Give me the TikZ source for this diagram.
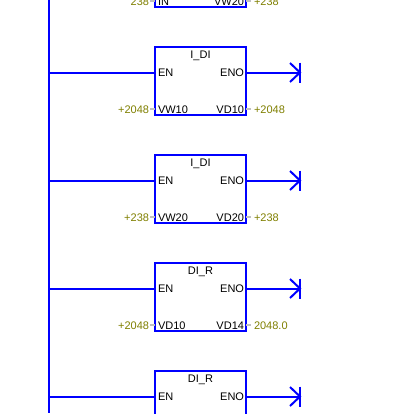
\documentclass[tikz,border=0pt]{standalone}
\usepackage{fontspec}
\setmainfont{Liberation Sans}
\definecolor{ladder}{HTML}{0000FF}
\definecolor{valueol}{HTML}{808000}
\definecolor{stubgr}{HTML}{C0C0C0}
\tikzset{
  wire/.style={draw=ladder,line width=2pt},
  fbox/.style={draw=ladder,line width=2pt,fill=white,minimum width=91pt,minimum height=68pt,inner sep=0pt,outer sep=0pt,anchor=north west},
  stub/.style={draw=stubgr,line width=2pt},
  pin/.style={font=\fontsize{11}{12}\selectfont,text=black,inner sep=0pt,outer sep=0pt},
  val/.style={font=\fontsize{11}{12}\selectfont,text=valueol,inner sep=0pt,outer sep=0pt},
}
\usetikzlibrary{calc}
\newcommand{\lbox}[2]{%
  \node[fbox] (#1) at (155,#2) {};
}
\newcommand{\ltitle}[3]{%
  \node[pin] (#1t) at (200.5,#2+8.5) {#3};
}
\newcommand{\lrung}[2]{%
  \node[pin,anchor=base west] (#1en) at ($(#1.north west)+(3,29.5)$) {EN};
  \node[pin,anchor=base east] (#1eno) at ($(#1.north east)+(-2,29.5)$) {ENO};
  \coordinate (#1rail) at (49,#2+25.5);
  \coordinate (#1coil) at (300,#2+25.5);
  \draw[wire] (#1rail) -- (#1rail-|#1.west);
  \draw[wire] (#1rail-|#1.east) -- (#1coil);
  \draw[wire] ($(#1coil)+(0,-10)$) -- ($(#1coil)+(0,10)$);
  \draw[wire] ($(#1coil)+(-10,-9.5)$) -- (#1coil) -- ($(#1coil)+(-10,9.5)$);
}
\newcommand{\lvals}[6]{%
  \coordinate (#1row) at (155,#2+62);
  \coordinate (#1la) at ($(#1row)+(-5,0)$);
  \coordinate (#1ra) at ($(#1row)+(95.5,0)$);
  \node[pin,anchor=base west] (#1in) at ($(#1row)+(3,4)$) {#3};
  \node[pin,anchor=base east] (#1out) at ($(#1row)+(89,4)$) {#4};
  \node[val,anchor=base east] (#1lv) at ($(#1row)+(-6,4)$) {#5};
  \node[val,anchor=base west] (#1rv) at ($(#1row)+(99,4)$) {#6};
  \draw[stub] (#1la) -- (#1row);
  \draw[stub] ($(#1row)+(91,0)$) -- (#1ra);
}
\begin{document}
\begin{tikzpicture}[x=1pt,y=-1pt]
\useasboundingbox (0,0) rectangle (420,413);
\clip (0,0) rectangle (420,413);
\fill[white] (0,0) rectangle (420,413);
\coordinate (railtop) at (49,0);
\coordinate (railbot) at (49,413);
\draw[wire] (railtop) -- (railbot);
\lbox{a}{-61}
\lvals{a}{-61}{IN}{VW20}{238}{+238}
\lbox{b}{47}
\ltitle{b}{47}{I\_DI}
\lrung{b}{47}
\lvals{b}{47}{VW10}{VD10}{+2048}{+2048}
\lbox{c}{155}
\ltitle{c}{155}{I\_DI}
\lrung{c}{155}
\lvals{c}{155}{VW20}{VD20}{+238}{+238}
\lbox{d}{263}
\ltitle{d}{263}{DI\_R}
\lrung{d}{263}
\lvals{d}{263}{VD10}{VD14}{+2048}{2048.0}
\lbox{e}{371}
\ltitle{e}{371}{DI\_R}
\lrung{e}{371}
\end{tikzpicture}
\end{document}
